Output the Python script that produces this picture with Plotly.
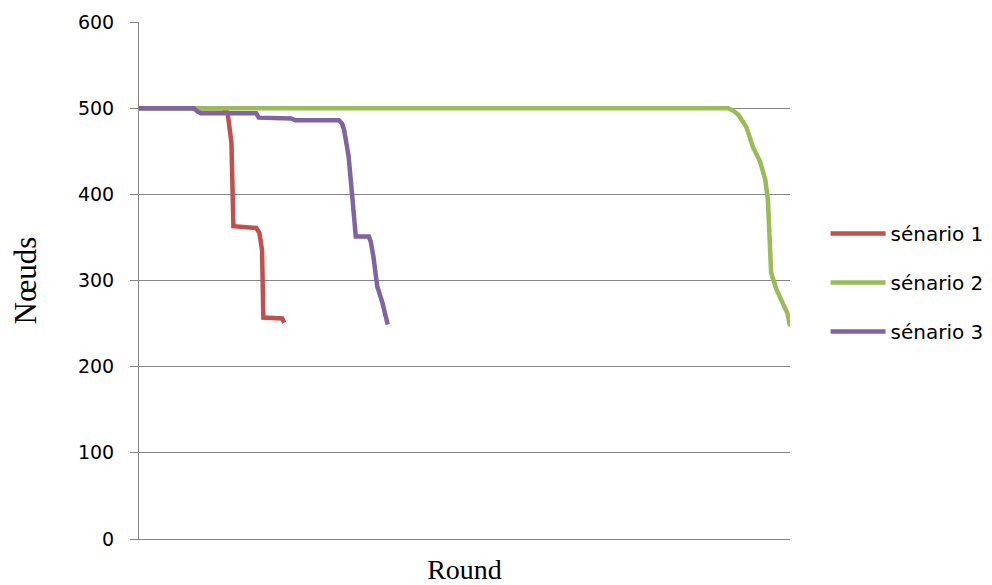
import plotly.graph_objects as go

# Scenario 1 (red)
s1_round = [0, 130, 136, 142, 145, 180, 185, 189, 191, 217, 220, 223]
s1_nodes = [500, 500, 495, 460, 363, 361, 355, 335, 257, 257, 256, 251]

# Scenario 2 (green)
s2_round = [0, 905, 913, 921, 933, 943, 954, 962, 966, 969, 971, 979, 987, 992, 996, 1000]
s2_nodes = [500, 500, 497, 492, 478, 455, 438, 417, 394, 347, 309, 290, 278, 270, 262, 247]

# Scenario 3 (purple)
s3_round = [0, 84, 90, 95, 180, 184, 234, 240, 307, 312, 315, 322, 328, 333, 353, 356, 360, 366, 374, 382]
s3_nodes = [500, 500, 496, 494, 494, 489, 488, 486, 486, 482, 475, 444, 394, 351, 351, 345, 328, 293, 274, 249]

names = ["sénario 1", "sénario 2", "sénario 3"]
colors = ["#C0504D", "#9BBB59", "#8064A2"]

y_ticks = [0, 100, 200, 300, 400, 500, 600]

TICK_FONT = "DejaVu Sans, Open Sans, sans-serif"
SERIF = "Liberation Serif, Times New Roman, serif"

fig = go.Figure()
for xs, ys, i in [(s1_round, s1_nodes, 0), (s2_round, s2_nodes, 1), (s3_round, s3_nodes, 2)]:
    fig.add_trace(go.Scatter(
        x=xs, y=ys, mode="lines", name=names[i],
        line=dict(color=colors[i], width=4.5),
        legendgroup=names[i],
    ))

fig.update_layout(
    width=992, height=577,
    margin=dict(l=131, r=209, t=14, b=46),
    paper_bgcolor="white", plot_bgcolor="white",
    font=dict(family=TICK_FONT, size=19, color="#000000"),
    legend=dict(
        x=1.053, y=0.496, xanchor="left", yanchor="middle",
        traceorder="grouped", tracegroupgap=20,
        font=dict(family=TICK_FONT, size=20),
        itemwidth=55, bgcolor="rgba(0,0,0,0)",
    ),
    showlegend=True,
)
fig.update_xaxes(
    range=[0, 1000], showticklabels=False, showgrid=False, zeroline=False,
    showline=True, linecolor="#868686", linewidth=1, ticks="", automargin=False,
    title=dict(text="Round", font=dict(family=SERIF, size=28), standoff=21),
)
fig.update_yaxes(
    range=[0, 600], tickvals=y_ticks, ticktext=[str(v) for v in y_ticks],
    showgrid=True, gridcolor="#868686", gridwidth=1, zeroline=False,
    showline=True, linecolor="#868686", linewidth=1, ticks="outside", ticklen=8, tickcolor="#868686",
    ticklabelstandoff=12, automargin=False,
    title=dict(text="Nœuds", font=dict(family=SERIF, size=31), standoff=43),
    tickfont=dict(family=TICK_FONT, size=19),
)
fig.write_html("out.html")
